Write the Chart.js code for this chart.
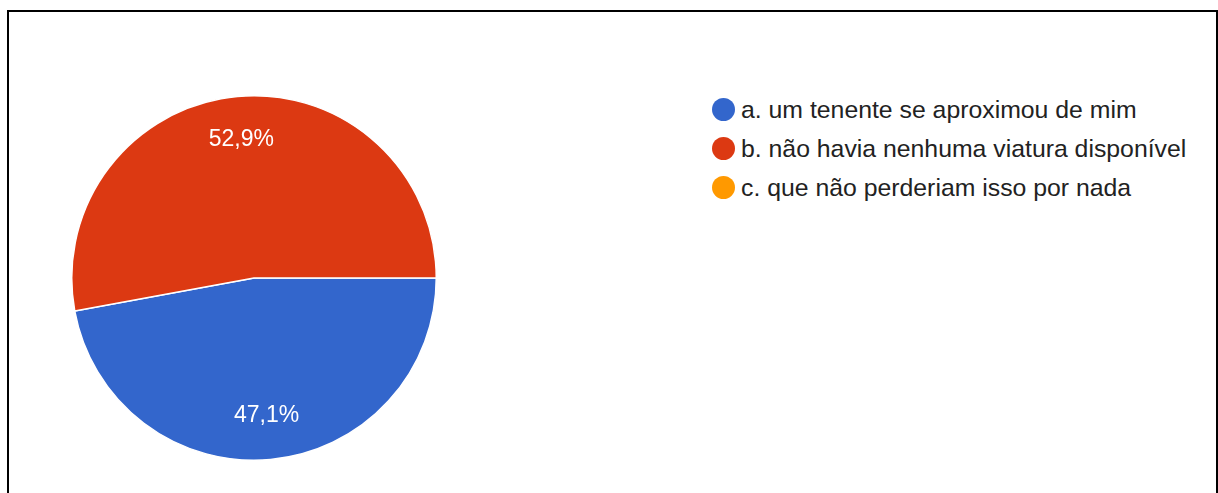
<!DOCTYPE html>
<html>
<head>
<meta charset="utf-8">
<script src="https://cdn.jsdelivr.net/npm/chart.js@4.4.1/dist/chart.umd.min.js"></script>
<style>
  html, body { margin: 0; padding: 0; background: #fff; width: 1218px; height: 493px; overflow: hidden; }
  #frame { position: absolute; left: 7px; top: 10px; width: 1207px; height: 520px; border: 2px solid #000; border-bottom: none; }
  #pieBox { position: absolute; left: 71px; top: 95px; width: 366px; height: 366px; }
  #legend { position: absolute; left: 712px; top: 90px; font-family: "Liberation Sans", Arial, sans-serif; font-size: 24.8px; color: #222; }
  .item { position: absolute; left: 0; height: 24px; white-space: nowrap; display: flex; align-items: center; }
  .dot { width: 23px; height: 23px; border-radius: 50%; margin-right: 6px; flex: none; }
</style>
</head>
<body>
<div id="frame"></div>
<div id="pieBox"><canvas id="c"></canvas></div>
<div id="legend"></div>
<script>
const categories = [
  "a. um tenente se aproximou de mim",
  "b. não havia nenhuma viatura disponível",
  "c. que não perderiam isso por nada"
];
const percentages = [47.1, 52.9, 0];
const sliceColors = ["#3366cc", "#dc3912", "#ff9900"];

// HTML legend built from the arrays
const legendEl = document.getElementById('legend');
const rowCenters = [19.5, 58.5, 97.5];
categories.forEach((label, i) => {
  const row = document.createElement('div');
  row.className = 'item';
  row.style.top = (rowCenters[i] - 12) + 'px';
  const dot = document.createElement('span');
  dot.className = 'dot';
  dot.style.background = sliceColors[i];
  const txt = document.createElement('span');
  txt.textContent = label;
  row.appendChild(dot);
  row.appendChild(txt);
  legendEl.appendChild(row);
});

const sliceLabels = {
  id: 'sliceLabels',
  afterDatasetsDraw(chart) {
    const ctx = chart.ctx;
    const meta = chart.getDatasetMeta(0);
    ctx.save();
    ctx.fillStyle = '#ffffff';
    ctx.font = '23px "Liberation Sans", Arial, sans-serif';
    ctx.textAlign = 'center';
    ctx.textBaseline = 'middle';
    meta.data.forEach((arc, i) => {
      const v = percentages[i];
      if (!v) return;
      const p = arc.getProps(['x', 'y', 'startAngle', 'endAngle', 'outerRadius'], true);
      const mid = (p.startAngle + p.endAngle) / 2;
      const r = p.outerRadius * 0.76;
      const x = p.x + Math.cos(mid) * r;
      const y = p.y + Math.sin(mid) * r;
      ctx.fillText(v.toFixed(1).replace('.', ',') + '%', x, y);
    });
    ctx.restore();
  }
};

new Chart(document.getElementById('c'), {
  type: 'pie',
  data: {
    labels: categories,
    datasets: [{
      data: percentages,
      backgroundColor: sliceColors,
      borderColor: '#ffffff',
      borderWidth: 1.5
    }]
  },
  options: {
    responsive: true,
    maintainAspectRatio: false,
    animation: false,
    rotation: 90,
    layout: { padding: 0 },
    plugins: {
      legend: { display: false },
      tooltip: { enabled: false }
    }
  },
  plugins: [sliceLabels]
});
</script>
</body>
</html>
